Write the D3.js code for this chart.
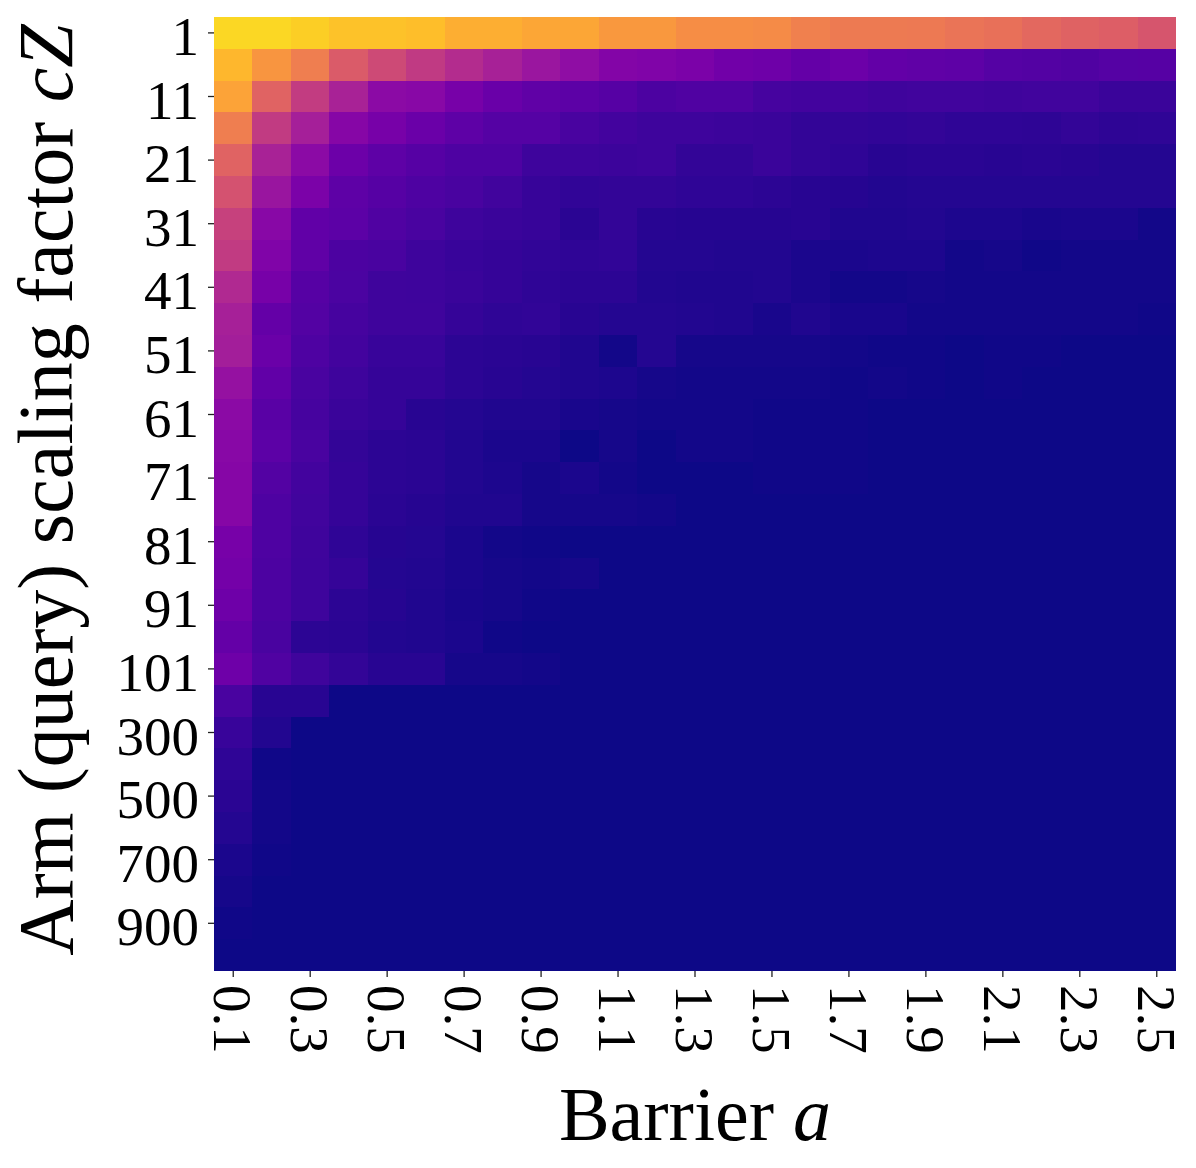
<!DOCTYPE html>
<html>
<head>
<meta charset="utf-8">
<script src="https://cdn.jsdelivr.net/npm/d3@7"></script>
<style>
  body { margin: 0; background: #fff; }
  svg { display: block; }
</style>
</head>
<body>
<svg id="chart"></svg>
<script>
// Barrier a (columns)
const barriers = ['0.1', '0.2', '0.3', '0.4', '0.5', '0.6', '0.7', '0.8', '0.9', '1.0',
  '1.1', '1.2', '1.3', '1.4', '1.5', '1.6', '1.7', '1.8', '1.9', '2.0',
  '2.1', '2.2', '2.3', '2.4', '2.5'];

// Arm (query) scaling factor c_Z (rows)
const scalingFactors = ['1', '6', '11', '16', '21', '26', '31', '36', '41', '46',
  '51', '56', '61', '66', '71', '76', '81', '86', '91', '96',
  '101', '200', '300', '400', '500', '600', '700', '800', '900', '1000'];

const xTickLabels = ['0.1', '0.3', '0.5', '0.7', '0.9', '1.1', '1.3', '1.5', '1.7', '1.9', '2.1', '2.3', '2.5'];
const yTickLabels = ['1', '11', '21', '31', '41', '51', '61', '71', '81', '91', '101', '300', '500', '700', '900'];

// cell values, one row per scaling factor (normalised colour value)
const cellValues = [
  [0.92, 0.92, 0.90, 0.87, 0.87, 0.86, 0.82, 0.82, 0.80, 0.80, 0.76, 0.76, 0.73, 0.73, 0.72, 0.69, 0.67, 0.67, 0.665, 0.65, 0.64, 0.61, 0.59, 0.58, 0.55],
  [0.84, 0.75, 0.68, 0.567, 0.51, 0.455, 0.407, 0.368, 0.332, 0.297, 0.265, 0.254, 0.246, 0.216, 0.21, 0.187, 0.205, 0.182, 0.174, 0.17, 0.148, 0.142, 0.135, 0.146, 0.15],
  [0.79, 0.595, 0.463, 0.373, 0.286, 0.28, 0.232, 0.197, 0.174, 0.165, 0.15, 0.125, 0.135, 0.133, 0.112, 0.105, 0.103, 0.097, 0.1, 0.1, 0.097, 0.1, 0.1, 0.085, 0.085],
  [0.68, 0.46, 0.36, 0.27, 0.232, 0.203, 0.17, 0.148, 0.148, 0.12, 0.105, 0.092, 0.09, 0.086, 0.084, 0.069, 0.067, 0.065, 0.067, 0.062, 0.062, 0.056, 0.067, 0.056, 0.062],
  [0.595, 0.373, 0.286, 0.205, 0.17, 0.15, 0.131, 0.131, 0.09, 0.092, 0.088, 0.09, 0.069, 0.069, 0.084, 0.067, 0.062, 0.045, 0.047, 0.047, 0.045, 0.047, 0.043, 0.039, 0.039],
  [0.538, 0.326, 0.243, 0.17, 0.152, 0.131, 0.118, 0.099, 0.075, 0.065, 0.067, 0.067, 0.062, 0.062, 0.052, 0.045, 0.041, 0.032, 0.037, 0.039, 0.039, 0.039, 0.039, 0.039, 0.037],
  [0.478, 0.28, 0.178, 0.165, 0.135, 0.118, 0.092, 0.084, 0.075, 0.047, 0.069, 0.045, 0.041, 0.041, 0.041, 0.043, 0.028, 0.03, 0.032, 0.024, 0.024, 0.017, 0.021, 0.021, 0.011],
  [0.46, 0.254, 0.174, 0.127, 0.118, 0.092, 0.082, 0.071, 0.065, 0.062, 0.065, 0.039, 0.039, 0.034, 0.032, 0.021, 0.021, 0.024, 0.024, 0.009, 0.013, 0.004, 0.011, 0.011, 0.009],
  [0.397, 0.232, 0.152, 0.122, 0.097, 0.092, 0.084, 0.071, 0.062, 0.054, 0.054, 0.032, 0.03, 0.03, 0.034, 0.021, 0.009, 0.009, 0.013, 0.009, 0.009, 0.009, 0.009, 0.009, 0.009],
  [0.365, 0.185, 0.144, 0.112, 0.097, 0.097, 0.073, 0.062, 0.063, 0.045, 0.037, 0.037, 0.034, 0.028, 0.017, 0.03, 0.019, 0.017, 0.009, 0.009, 0.009, 0.009, 0.009, 0.009, 0.006],
  [0.356, 0.2, 0.131, 0.105, 0.082, 0.08, 0.054, 0.05, 0.043, 0.03, 0.01, 0.037, 0.015, 0.015, 0.013, 0.012, 0.01, 0.004, 0.004, 0.002, 0.004, 0.004, 0.002, 0.002, 0.002],
  [0.315, 0.178, 0.118, 0.092, 0.071, 0.071, 0.054, 0.045, 0.037, 0.03, 0.024, 0.013, 0.011, 0.009, 0.009, 0.009, 0.004, 0.011, 0.004, 0.002, 0.004, 0.002, 0.002, 0.002, 0.002],
  [0.286, 0.16, 0.112, 0.084, 0.071, 0.045, 0.039, 0.03, 0.03, 0.019, 0.013, 0.009, 0.009, 0.009, 0.004, 0.004, 0.004, 0.002, 0.002, 0.002, 0.002, 0.002, 0.002, 0.002, 0.002],
  [0.28, 0.165, 0.118, 0.069, 0.054, 0.049, 0.034, 0.021, 0.021, 0, 0.013, 0, 0.011, 0.011, 0.004, 0.004, 0.004, 0.002, 0.002, 0.002, 0.002, 0.002, 0.002, 0.002, 0.002],
  [0.272, 0.144, 0.103, 0.071, 0.052, 0.049, 0.032, 0.026, 0.015, 0.021, 0.011, 0.002, 0.002, 0, 0.004, 0.004, 0.004, 0.002, 0.002, 0.002, 0.002, 0.002, 0.002, 0.002, 0.002],
  [0.272, 0.131, 0.1, 0.071, 0.049, 0.041, 0.03, 0.028, 0.015, 0.013, 0.013, 0.009, 0, 0.002, 0.002, 0.002, 0.002, 0.002, 0.002, 0.002, 0.002, 0.002, 0.002, 0.002, 0.002],
  [0.232, 0.131, 0.097, 0.062, 0.041, 0.037, 0.021, 0.011, 0.004, 0.002, 0.002, 0.002, 0.002, 0.002, 0.002, 0.002, 0.002, 0.002, 0.002, 0.002, 0.002, 0.002, 0.002, 0.002, 0.002],
  [0.226, 0.127, 0.092, 0.071, 0.039, 0.032, 0.021, 0.015, 0.009, 0.013, 0.002, 0.002, 0.002, 0.002, 0.002, 0.002, 0.002, 0.002, 0.002, 0.002, 0.002, 0.002, 0.002, 0.002, 0.002],
  [0.208, 0.125, 0.092, 0.052, 0.041, 0.03, 0.019, 0.013, 0.004, 0.002, 0.002, 0.002, 0.002, 0.002, 0.002, 0.002, 0.002, 0.002, 0.002, 0.002, 0.002, 0.002, 0.002, 0.002, 0.002],
  [0.187, 0.118, 0.052, 0.049, 0.032, 0.03, 0.021, 0.004, 0.002, 0, 0, 0, 0, 0, 0, 0, 0, 0, 0, 0, 0, 0, 0, 0, 0],
  [0.21, 0.135, 0.097, 0.069, 0.045, 0.045, 0.015, 0.015, 0.011, 0, 0, 0, 0, 0, 0, 0, 0, 0, 0, 0, 0, 0, 0, 0, 0],
  [0.118, 0.045, 0.045, 0.002, 0.002, 0.002, 0.002, 0.002, 0.002, 0, 0, 0, 0, 0, 0, 0, 0, 0, 0, 0, 0, 0, 0, 0, 0],
  [0.082, 0.034, 0.002, 0.002, 0.002, 0.002, 0.002, 0.002, 0.002, 0, 0, 0, 0, 0, 0, 0, 0, 0, 0, 0, 0, 0, 0, 0, 0],
  [0.062, 0.004, 0, 0, 0, 0, 0, 0, 0, 0, 0, 0, 0, 0, 0, 0, 0, 0, 0, 0, 0, 0, 0, 0, 0],
  [0.049, 0.009, 0, 0, 0, 0, 0, 0, 0, 0, 0, 0, 0, 0, 0, 0, 0, 0, 0, 0, 0, 0, 0, 0, 0],
  [0.037, 0.009, 0, 0, 0, 0, 0, 0, 0, 0, 0, 0, 0, 0, 0, 0, 0, 0, 0, 0, 0, 0, 0, 0, 0],
  [0.021, 0.004, 0, 0, 0, 0, 0, 0, 0, 0, 0, 0, 0, 0, 0, 0, 0, 0, 0, 0, 0, 0, 0, 0, 0],
  [0.015, 0.002, 0, 0, 0, 0, 0, 0, 0, 0, 0, 0, 0, 0, 0, 0, 0, 0, 0, 0, 0, 0, 0, 0, 0],
  [0.004, 0, 0, 0, 0, 0, 0, 0, 0, 0, 0, 0, 0, 0, 0, 0, 0, 0, 0, 0, 0, 0, 0, 0, 0],
  [0.002, 0, 0, 0, 0, 0, 0, 0, 0, 0, 0, 0, 0, 0, 0, 0, 0, 0, 0, 0, 0, 0, 0, 0, 0],
];

const width = 1196;
const height = 1168;
const margin = { top: 17, right: 20, bottom: 197, left: 214 };
const serif = "'Liberation Serif', 'Times New Roman', serif";

function drawHeatmap() {
  const svg = d3.select('#chart')
    .attr('width', width)
    .attr('height', height)
    .style('background', '#fff');

  const x = d3.scaleBand()
    .domain(barriers)
    .range([margin.left, width - margin.right]);

  const y = d3.scaleBand()
    .domain(scalingFactors)
    .range([margin.top, height - margin.bottom]);

  const color = d3.scaleSequential(d3.interpolatePlasma).domain([0, 1]);

  // flatten rows into cells
  const cells = [];
  scalingFactors.forEach((row, i) => {
    barriers.forEach((col, j) => {
      cells.push({ row, col, value: cellValues[i][j] });
    });
  });

  // snap cell edges to whole pixels so neighbours meet without seams
  const x0 = (d) => Math.round(x(d.col));
  const x1 = (d) => Math.round(x(d.col) + x.bandwidth());
  const y0 = (d) => Math.round(y(d.row));
  const y1 = (d) => Math.round(y(d.row) + y.bandwidth());

  svg.append('g')
    .attr('shape-rendering', 'crispEdges')
    .selectAll('rect')
    .data(cells)
    .enter()
    .append('rect')
    .attr('x', x0)
    .attr('y', y0)
    .attr('width', (d) => x1(d) - x0(d))
    .attr('height', (d) => y1(d) - y0(d))
    .attr('fill', (d) => color(d.value));

  // Y axis
  const yAxis = svg.append('g')
    .attr('transform', `translate(${margin.left},0)`)
    .call(d3.axisLeft(y).tickValues(yTickLabels).tickSize(6).tickPadding(9));
  yAxis.select('.domain').remove();
  yAxis.selectAll('.tick line').attr('stroke', '#222').attr('stroke-width', 1.3);
  yAxis.selectAll('.tick text')
    .attr('dy', '0.4em')
    .attr('fill', '#000')
    .style('font-family', serif)
    .style('font-size', '55px');

  // X axis, labels turned to read downwards
  const xAxis = svg.append('g')
    .attr('transform', `translate(0,${height - margin.bottom})`)
    .call(d3.axisBottom(x).tickValues(xTickLabels).tickSize(6));
  xAxis.select('.domain').remove();
  xAxis.selectAll('.tick line').attr('stroke', '#222').attr('stroke-width', 1.3);
  xAxis.selectAll('.tick text')
    .attr('x', 14)
    .attr('y', 0)
    .attr('dy', '0.35em')
    .attr('transform', 'rotate(90)')
    .attr('fill', '#000')
    .style('text-anchor', 'start')
    .style('font-family', serif)
    .style('font-size', '55px');

  // Axis titles
  const xTitle = svg.append('text')
    .attr('x', (margin.left + width - margin.right) / 2)
    .attr('y', 1140)
    .attr('text-anchor', 'middle')
    .style('font-family', serif)
    .style('font-size', '76px');
  xTitle.append('tspan').text('Barrier ');
  xTitle.append('tspan').style('font-style', 'italic').text('a');

  const yTitle = svg.append('text')
    .attr('transform', 'translate(72,490) rotate(-90)')
    .attr('text-anchor', 'middle')
    .style('font-family', serif)
    .style('font-size', '78px');
  yTitle.append('tspan').text('Arm (query) scaling factor ');
  yTitle.append('tspan').style('font-style', 'italic').text('c');
  yTitle.append('tspan').style('font-style', 'italic').text('Z');
}

document.addEventListener('DOMContentLoaded', () => {
  drawHeatmap();
});
</script>
</body>
</html>
